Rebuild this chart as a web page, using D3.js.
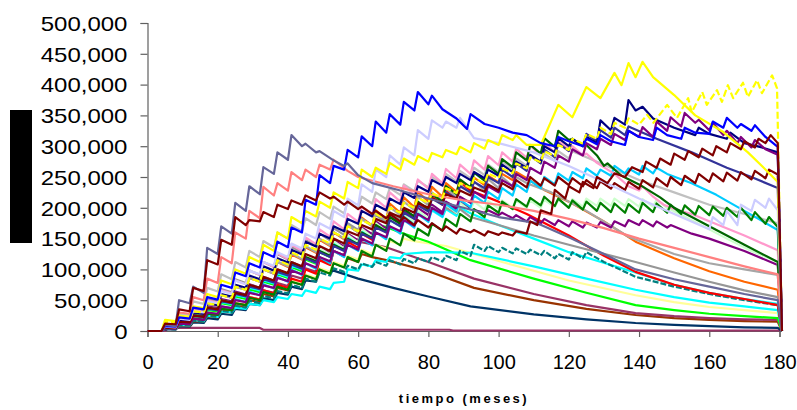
<!DOCTYPE html>
<html><head><meta charset="utf-8">
<script src="https://cdn.jsdelivr.net/npm/d3@7"></script>
<style>body{margin:0;background:#fff}svg{display:block}</style>
</head><body>
<svg id="chart" width="797" height="410"></svg>
<script>
// x categories (months) for the sawtooth grid: trough just before each quarterly jump, peak right after it
const toothMonths = [0,4,5,8,9,12,13,16,17,20,21,24,25,28,29,32,33,36,37,40,41,44,45,48,49,52,53,56,57,60,61,64,65,68,69,72,73,76,77,80,81,84,85,88,89,92,93,96,97,100,101,104,105,108,109,112,113,116,117,120,121,124,125,128,129,132,133,136,137,140,141,144,145,148,149,152,153,156,157,160,161,164,165,168,169,172,173,176,177,180];
const xTicks = [0,20,40,60,80,100,120,140,160,180];
const yTicks = [0,50,100,150,200,250,300,350,400,450,500]; // thousands
const xTitle = "tiempo (meses)";

// values in thousands; "rise" follows toothMonths, "tail" is [month, value, ...]
const riseGrayBlue = [0,0, 10,8, 50,45, 72,62, 135,125, 170,158, 208,195, 235,222, 266,255, 290,278, 318,300, 304,290, 292];
const tailGrayBlue = [53,277, 56,268, 57,272, 60,253, 64,240, 72,228, 80,215, 90,200, 100,185, 111,175, 120,152, 130,125, 139,100, 150,84, 160,72, 170,60, 179.5,50, 180.7,0];

const riseBlue = [0,0, 8,7, 22,20, 38,35, 55,51, 75,70, 95,89, 110,103, 128,120, 145,136, 168,160, 213,205, 253,240, 268,262, 294,282, 316,300, 340,322, 352,335, 372,358, 388,368, 382];
const tailBlue = [84,360, 88,345, 91,328, 92,352, 96,336, 100,330, 104,322, 108,318, 112,305, 116,300, 117,315, 120,308, 124,300, 125,312, 128,303, 129,318, 132,308, 136,302, 137,325, 140,315, 144,310, 145,330, 148,318, 152,312, 153,330, 156,322, 160,320, 161,340, 164,330, 165,346, 168,330, 169,336, 172,325, 173,334, 176,315, 179.5,299, 180.7,0];

const risePeriwinkle = [0,0, 7,6, 20,18, 32,30, 48,45, 65,60, 82,76, 98,92, 112,106, 128,120, 142,134, 158,150, 175,166, 195,185, 215,204, 238,226, 262,250, 285,270, 298,285, 326,312, 342,330, 340,330, 346];
const tailPeriwinkle = [93,313, 100,305, 110,290, 120,268, 130,242, 140,215, 150,190, 160,165, 161,185, 164,172, 165,195, 168,172, 169,205, 172,195, 173,213, 176,200, 177,215, 179.5,196, 180.7,0];

const riseSalmon = [0,0, 10,9, 30,28, 55,50, 85,78, 120,110, 160,150, 195,183, 234,220, 240,228, 258,245, 262,250, 270,262, 278];
const tailSalmon = [57,260, 60,250, 70,235, 80,222, 90,212, 100,205, 110,195, 120,182, 130,167, 140,150, 150,135, 160,120, 170,105, 179.5,92, 180.7,0];

const riseYellowA = [0,0, 18,16, 25,23, 40,37, 60,55, 82,76, 100,93, 120,112, 140,130, 160,150, 185,175, 195,186, 210,200, 225,215, 242,232, 262,250, 265,255, 273,262, 280,270, 284,275, 289,282, 294,287, 299,290, 305,296, 310,302, 318,310, 318,302];
const tailYellowA = [112,302, 117,367, 121,347, 125,396, 129,378, 133,419, 135,399, 137,435, 139,412, 141,437, 144,412, 150,383, 156,350, 164,323, 171,290, 175.5,265, 179.5,242, 180.7,0];

const riseYellowB = [0,0, 15,14, 22,20, 32,30, 45,42, 58,54, 72,67, 86,80, 100,94, 115,108, 128,120, 140,132, 150,142, 160,152, 170,162, 180,172, 190,182, 200,192, 208,200, 216,208, 224,216, 232,224, 240,232, 248,240, 256,248, 264,256, 272,264, 282,274, 292,284, 302,294, 312,304, 320,312, 330,320, 338,330, 345,335];
const tailYellowB = [142.3,351, 144.1,338, 148,367, 150.8,346, 154,378, 155,355, 158,388, 159.3,367, 162.2,391, 163.6,372, 165.3,399, 166.8,378, 169.6,403, 171,380, 173.6,407, 175,386, 177.9,415, 179.3,394, 180.7,0];

const riseNavy = [0,0, 6,5, 18,16, 30,28, 45,42, 60,56, 75,70, 90,84, 105,98, 118,111, 132,124, 145,137, 158,150, 170,162, 182,174, 195,186, 205,196, 215,206, 225,216, 235,226, 245,236, 250,240, 255,245, 258,248, 262,252, 270,258, 275,265, 286,275, 300,290, 313,300, 312,300, 315,305, 342,326, 346,335, 375];
const tailNavy = [139,358, 141,364, 144,345, 150,330, 156,318, 157,330, 160,320, 165,312, 166,322, 170,305, 175,298, 179.5,290, 180.7,0];

const riseSlate = [0,0, 5,4, 14,13, 25,23, 36,34, 48,45, 60,56, 72,68, 84,79, 96,90, 108,101, 118,111, 128,120, 138,130, 148,140, 158,150, 168,160, 180,170, 192,182, 204,194, 215,205, 225,215, 235,225, 242,232, 250,240, 262,250, 272,260, 285,272, 295,282, 305,292, 312,300, 320,308, 326,314, 330,318, 332];
const tailSlate = [145,312, 155,290, 165,265, 172,250, 179.5,232, 180.7,0];

const risePurpleTop = [0,0, 5,4, 12,11, 20,18, 30,28, 40,37, 50,47, 62,58, 74,70, 86,81, 98,92, 110,103, 120,113, 130,123, 140,132, 150,142, 160,152, 170,162, 180,171, 190,180, 200,190, 210,200, 218,208, 226,216, 235,225, 245,235, 255,245, 265,255, 275,265, 285,275, 295,285, 305,295, 312,302, 320,310, 325,315, 331,315, 340,325, 347,332, 354,338, 343,326, 338,318, 325,305, 315,298];
const tailPurpleTop = [173,310, 176,295, 179.5,286, 180.7,0];

const riseDarkRed1 = [0,0, 12,11, 35,32, 70,65, 115,108, 148,140, 185,172, 180,178, 193,185, 205,198, 212,205, 220,212, 225,215, 218,205, 210,198, 202,190, 195,183, 190,178, 185,172, 180,168, 175,163, 170,158, 166,160, 164,155, 162,156, 160,155, 162,158];
const tailDarkRed1 = [109,178, 111,172, 112,196, 115,190, 116,229, 119,215, 120,235, 123,225, 124,242, 127,232, 128,250, 131,240, 133,256, 136,250, 138,266, 141,258, 142,275, 145,265, 146,280, 149,270, 150,288, 153,278, 154,292, 157,282, 158,296, 161,285, 162,300, 165,290, 166,305, 169,295, 170,308, 173,298, 174,312, 176,305, 177.5,318, 179.5,305, 180.7,0];

const riseDarkRed2 = [0,0, 5,5, 15,14, 25,23, 38,35, 50,46, 62,58, 75,70, 88,82, 100,94, 112,105, 125,118, 138,130, 150,142, 162,155, 172,165, 182,175, 192,185, 200,192, 208,200, 215,208, 222,215, 228,220, 233,226, 238,228, 240,230, 245,233, 250,236, 248,236, 250,237, 248,235, 245,232, 243,231, 240,229, 242,231, 245,233, 248,235, 250,237, 252,240, 255,242, 256,243, 257,244, 258,246, 260,248, 262];
const tailDarkRed2 = [179.5,254, 180.7,0];

const riseDarkGreen = [0,0, 6,5, 15,14, 26,24, 38,35, 50,46, 62,58, 74,70, 86,81, 98,92, 110,103, 120,113, 130,122, 140,132, 150,141, 160,151, 172,162, 185,174, 198,186, 210,198, 222,210, 235,222, 246,233, 257,244, 268,255, 279,266, 290,277, 302,288, 313,299, 325,310];
const tailDarkGreen = [121,312, 124,300, 125,302, 128,285, 130,268, 131,272, 135,252, 140,238, 146,217, 150,200, 160,170, 170,140, 179.5,112, 180.7,0];

const riseGreenDark = [0,0, 5,4, 12,11, 20,18, 28,26, 36,34, 45,42, 54,50, 63,59, 72,67, 80,75, 90,84, 100,93, 110,103, 120,112, 130,121, 140,130, 150,139, 158,147, 166,155, 174,163, 182,170, 190,178, 198,185, 204,192, 210,198, 214,202, 216,204, 218,203, 215,200, 212,197, 210,195, 208,193, 207,192, 206,192, 208,193, 207,192, 205,190, 204,189, 203,188, 202,187, 200,185, 200,180, 193,174, 185];
const tailGreenDark = [179.5,169, 180.7,0];

const risePink = [0,0, 8,7, 20,18, 34,31, 50,46, 66,61, 82,76, 98,91, 112,104, 126,117, 140,130, 152,141, 165,153, 178,165, 190,177, 202,188, 214,200, 225,210, 236,221, 246,231, 255,240, 263,248, 270,255, 277,262, 284,269, 290,275, 296,281, 301,286, 305,290, 308];
const tailPink = [120,296, 121,300, 124,285, 125,288, 128,273, 133,255, 137,235, 140,228, 141,235, 144,218, 147,205, 150,198, 155,190, 160,178, 170,155, 179.5,131, 180.7,0];

const riseSky = [0,0, 5,4, 12,11, 20,18, 30,27, 40,37, 52,47, 64,58, 76,69, 88,80, 100,91, 110,101, 120,110, 130,120, 140,130, 150,139, 160,149, 170,158, 180,168, 190,177, 198,186, 206,194, 213,201, 220,208, 226,214, 232,220, 238,226, 244,232, 250,238, 256,244, 258,248, 264,252, 262,252, 268,256, 264,254, 268,256, 265];
const tailSky = [148,255, 155,240, 162,221, 170,195, 179.5,164, 180.7,0];

const riseSilver = [0,0, 10,9, 28,26, 48,44, 70,64, 92,84, 112,103, 130,120, 146,136, 160,150, 172,162, 183,172, 193,182, 202,191, 210,199, 218,207, 225,214, 232,221, 238,227, 244,233, 250,238, 255,243, 260,248, 265,253, 270,258, 275,263, 280,268, 284,272, 288,276, 292,280, 292];
const tailSilver = [125,282, 130,270, 140,245, 150,225, 160,205, 170,190, 179.5,175, 180.7,0];

const riseLightGreen = [0,0, 6,5, 15,14, 26,24, 38,35, 50,46, 62,57, 75,69, 88,81, 100,92, 112,103, 124,114, 135,124, 146,134, 156,144, 166,153, 175,162, 183,170, 190,177, 196,183, 201,188, 205,192, 208,195, 210,197, 211,199, 212,200, 212,200, 212,200, 213,201, 213,201, 214,202, 215,203, 215,203, 215,203, 214,202, 214,202, 213];
const tailLightGreen = [148,200, 155,180, 165,150, 172,130, 179.5,112, 180.7,0];

const risePurple2 = [0,0, 6,5, 16,15, 28,26, 40,37, 52,48, 64,59, 76,70, 88,81, 100,92, 112,104, 124,115, 136,126, 148,137, 158,147, 168,157, 178,166, 186,175, 194,182, 200,188, 205,193, 208,197, 210];
const tailPurple2 = [92,198, 96,192, 97,196, 100,188, 101,192, 104,183, 105,188, 108,178, 109,185, 112,175, 113,182, 116,172, 117,180, 120,170, 121,178, 124,168, 125,176, 128,168, 129,177, 132,168, 133,178, 136,170, 137,180, 140,172, 141,180, 144,170, 145,178, 148,168, 149,172, 155,158, 160,150, 170,130, 179.5,107, 180.7,0];

const riseGray1 = [0,0, 8,7, 22,20, 36,33, 52,48, 68,63, 84,78, 98,91, 112,104, 125,116, 137,127, 148,138, 158,147, 167,156, 175,164, 182,171, 188,177, 193,182, 196,186, 199,189, 201,191, 200,191, 198];
const tailGray1 = [92,185, 100,172, 110,155, 120,140, 139,112, 150,95, 160,80, 170,66, 179.5,55, 180.7,0];

const riseGray2 = [0,0, 7,6, 18,16, 30,28, 44,41, 58,54, 72,67, 86,80, 100,93, 113,105, 126,117, 138,128, 150,139, 161,150, 172,160, 182,170, 192,179, 201,188, 210,196, 218,204, 225,211, 232,217, 238,223, 243,228, 247,232, 250,235, 250];
const tailGray2 = [108,240, 115,225, 125,195, 137,153, 150,125, 160,110, 170,100, 179.5,91, 180.7,0];

const riseOrange = [0,0, 8,7, 18,16, 30,28, 44,41, 58,54, 72,67, 86,80, 100,93, 112,104, 124,116, 136,127, 148,138, 160,149, 172,160, 184,171, 196,182, 207,192, 217,201, 226,210, 234,218, 240,226, 245,232, 249,237, 252,241, 255,245, 258];
const tailOrange = [108,248, 113,229, 120,210, 130,178, 139,145, 150,118, 160,97, 170,80, 179.5,67, 180.7,0];

const riseRed = [0,0, 5,4, 12,11, 20,18, 28,26, 36,34, 45,42, 55,51, 66,61, 75,70, 85,80, 100,93, 115,107, 130,121, 145,135, 158,148, 172,160, 185,173, 197,184, 208,195, 218,205, 228,215, 240];
const tailRed = [92,228, 100,210, 108,190, 120,155, 130,122, 139,96, 150,75, 160,62, 170,52, 179.5,42, 180.7,0];

const riseCyan1 = [0,0, 6,5, 15,14, 25,23, 36,34, 47,44, 58,55, 70,66, 82,77, 94,88, 106,100, 118,111, 130,122, 142,133, 153,143, 163,153, 172,162, 180,170, 187,176, 192,181, 196,185, 198,187, 200];
const tailCyan1 = [92,191, 100,172, 110,150, 120,128, 139,95, 150,75, 160,62, 170,52, 179.5,44, 180.7,0];

const riseCyan2 = [0,0, 4,3, 10,9, 18,16, 25,23, 32,30, 38,36, 44,42, 50,47, 55,52, 60,57, 66,62, 72,68, 78];
const tailCyan2 = [56,80, 57,100, 60,98, 61,108, 64,105, 65,115, 68,112, 69,120, 72,118, 73,125, 80,128, 92,127, 110,105, 125,85, 139,67, 150,55, 160,46, 170,40, 179.5,34, 180.7,0];

const riseTeal = [0,0, 4,3, 10,9, 17,15, 25,23, 33,30, 41,38, 49,45, 57,53, 65,61, 75,70, 85,80, 95,90, 102,96, 106,100, 110,104, 112,106, 115,108, 117,110, 118,112, 120,113, 122,115, 130,122, 140,130, 138,128, 135,126, 134,125, 132,123, 130,118, 125,116, 128,118, 128];
const tailTeal = [130,112, 139,88, 150,72, 160,60, 170,50, 179.5,42, 180.7,0];

const riseGreen = [0,0, 5,4, 14,13, 24,22, 34,32, 45,42, 56,52, 68,63, 80,75, 92,86, 104,97, 116,109, 128,120, 140,132, 152,143, 163,154, 172];
const tailGreen = [68,169, 72,160, 80,145, 92,115, 110,85, 125,62, 139,42, 150,34, 160,28, 170,24, 179.5,21, 180.7,0];

const riseLightYellow = [0,0, 5,4, 12,11, 20,18, 28,26, 37,34, 46,43, 55,51, 64,60, 73,69, 82,77, 92,86, 102,96, 112,106, 122,116, 132,125, 140,134, 146,140, 150];
const tailLightYellow = [76,146, 85,138, 101,112, 120,82, 139,58, 150,47, 160,39, 170,34, 179.5,29, 180.7,0];

const risePlum = [0,0, 4,3, 10,9, 18,16, 26,24, 35,32, 45,42, 55,51, 66,62, 78,73, 90,85, 102,96, 116,109, 130,123, 145];
const tailPlum = [60,145, 62,143, 68,136, 80,112, 93,85, 110,60, 125,42, 139,29, 150,24, 160,21, 170,19, 179.5,18, 180.7,0];

const riseBrown = [0,0, 4,3, 9,8, 16,15, 24,22, 32,30, 41,38, 50,47, 60,56, 70,66, 80,75, 90,85, 100,94, 110,104, 118,112, 125];
const tailBrown = [64,120, 68,115, 80,97, 93,70, 110,50, 125,36, 139,26, 150,21, 160,18, 170,16, 179.5,15, 180.7,0];

const riseDarkNavy = [0,0, 3,2, 8,7, 14,13, 21,19, 28,26, 36,34, 44,42, 53,50, 62,59, 72,68, 82,80, 99];
const tailDarkNavy = [52,96, 53,98, 60,85, 70,70, 80,56, 92,40, 110,27, 125,19, 139,13, 150,10, 160,8, 170,6, 179.5,5, 180.7,0];

const riseBottom = [0,0];
const tailBottom = [5,0, 6,5, 32,5, 33,2, 86,2, 87,0.8, 180,0.8, 180.7,0];

// drawing table (drawn in this order; later series on top)
const seriesTable = [
  {rise: riseBottom, tail: tailBottom, color: "#993366"},
  {rise: riseDarkNavy, tail: tailDarkNavy, color: "#003366"},
  {rise: riseBrown, tail: tailBrown, color: "#993300"},
  {rise: risePlum, tail: tailPlum, color: "#993366"},
  {rise: riseLightYellow, tail: tailLightYellow, color: "#FFFF99"},
  {rise: riseGreen, tail: tailGreen, color: "#00FF00"},
  {rise: riseCyan2, tail: tailCyan2, color: "#00FFFF"},
  {rise: riseCyan1, tail: tailCyan1, color: "#00FFFF"},
  {rise: riseTeal, tail: tailTeal, color: "#008080", dash: "6,2"},
  {rise: riseRed, tail: tailRed, color: "#FF0000"},
  {rise: riseOrange, tail: tailOrange, color: "#FF6600"},
  {rise: riseGray1, tail: tailGray1, color: "#969696"},
  {rise: riseGray2, tail: tailGray2, color: "#A6A6A6"},
  {rise: risePurple2, tail: tailPurple2, color: "#800080"},
  {rise: riseLightGreen, tail: tailLightGreen, color: "#CCFFCC"},
  {rise: riseSilver, tail: tailSilver, color: "#C0C0C0"},
  {rise: riseSky, tail: tailSky, color: "#00CCFF"},
  {rise: risePink, tail: tailPink, color: "#FF99CC"},
  {rise: riseGreenDark, tail: tailGreenDark, color: "#008000"},
  {rise: riseDarkGreen, tail: tailDarkGreen, color: "#006600"},
  {rise: riseSlate, tail: tailSlate, color: "#333399"},
  {rise: riseNavy, tail: tailNavy, color: "#000080"},
  {rise: risePurpleTop, tail: tailPurpleTop, color: "#800080"},
  {rise: riseDarkRed2, tail: tailDarkRed2, color: "#800000"},
  {rise: riseSalmon, tail: tailSalmon, color: "#FF8080"},
  {rise: risePeriwinkle, tail: tailPeriwinkle, color: "#CCCCFF"},
  {rise: riseYellowB, tail: tailYellowB, color: "#FFFF00", dash: "7,3"},
  {rise: riseYellowA, tail: tailYellowA, color: "#FFFF00"},
  {rise: riseBlue, tail: tailBlue, color: "#0000FF"},
  {rise: riseGrayBlue, tail: tailGrayBlue, color: "#666699"},
  {rise: riseDarkRed1, tail: tailDarkRed1, color: "#800000"}
];

const svg = d3.select("#chart");
const x = d3.scaleLinear().domain([0, 180]).range([147.5, 779.5]);
const y = d3.scaleLinear().domain([0, 500]).range([331, 23]);

// redaction block where the y title was
svg.append("rect").attr("x", 10).attr("y", 110).attr("width", 22).attr("height", 133).attr("fill", "#000");

// axes
const yAxis = svg.append("g").attr("transform", `translate(${x(0)},0)`)
  .call(d3.axisLeft(y).tickValues(yTicks).tickSize(7).tickPadding(0).tickFormat(d => d3.format(",")(d * 1000)));
yAxis.select(".domain").attr("stroke", "#606060").attr("stroke-width", 1.2);
yAxis.selectAll(".tick line").attr("stroke", "#606060").attr("stroke-width", 1.2);
yAxis.selectAll(".tick text")
  .attr("x", -16.7).attr("dy", "0.36em")
  .attr("transform", "scale(1.2,1)")
  .style("font-family", "'Liberation Sans', Arial, sans-serif")
  .style("font-size", "20px").attr("fill", "#000");

const xAxis = svg.append("g").attr("transform", `translate(0,${y(0)})`)
  .call(d3.axisBottom(x).tickValues(xTicks).tickSize(6).tickFormat(d3.format("d")));
xAxis.select(".domain").attr("stroke", "#606060").attr("stroke-width", 1.2);
xAxis.selectAll(".tick line").attr("stroke", "#606060").attr("stroke-width", 1.2);
xAxis.selectAll(".tick text")
  .attr("y", 24).attr("dy", "0.71em")
  .style("font-family", "'Liberation Sans', Arial, sans-serif")
  .style("font-size", "20px").attr("fill", "#000");

svg.append("text").attr("x", 464).attr("y", 403).attr("text-anchor", "middle")
  .style("font-family", "'Liberation Sans', Arial, sans-serif").style("font-size", "13px")
  .style("font-weight", "bold").style("letter-spacing", "2.5px").text(xTitle);

// series
const line = d3.line().x(d => x(d[0])).y(d => y(d[1]));
const plot = svg.append("g");
seriesTable.forEach(s => {
  const pts = s.rise.map((v, i) => [toothMonths[i], v]);
  for (let i = 0; i < s.tail.length; i += 2) pts.push([s.tail[i], s.tail[i + 1]]);
  plot.append("path").datum(pts)
    .attr("d", line).attr("fill", "none")
    .attr("stroke", s.color).attr("stroke-width", 2.2)
    .attr("stroke-linejoin", "round")
    .attr("stroke-dasharray", s.dash || null);
});
</script>
</body></html>
